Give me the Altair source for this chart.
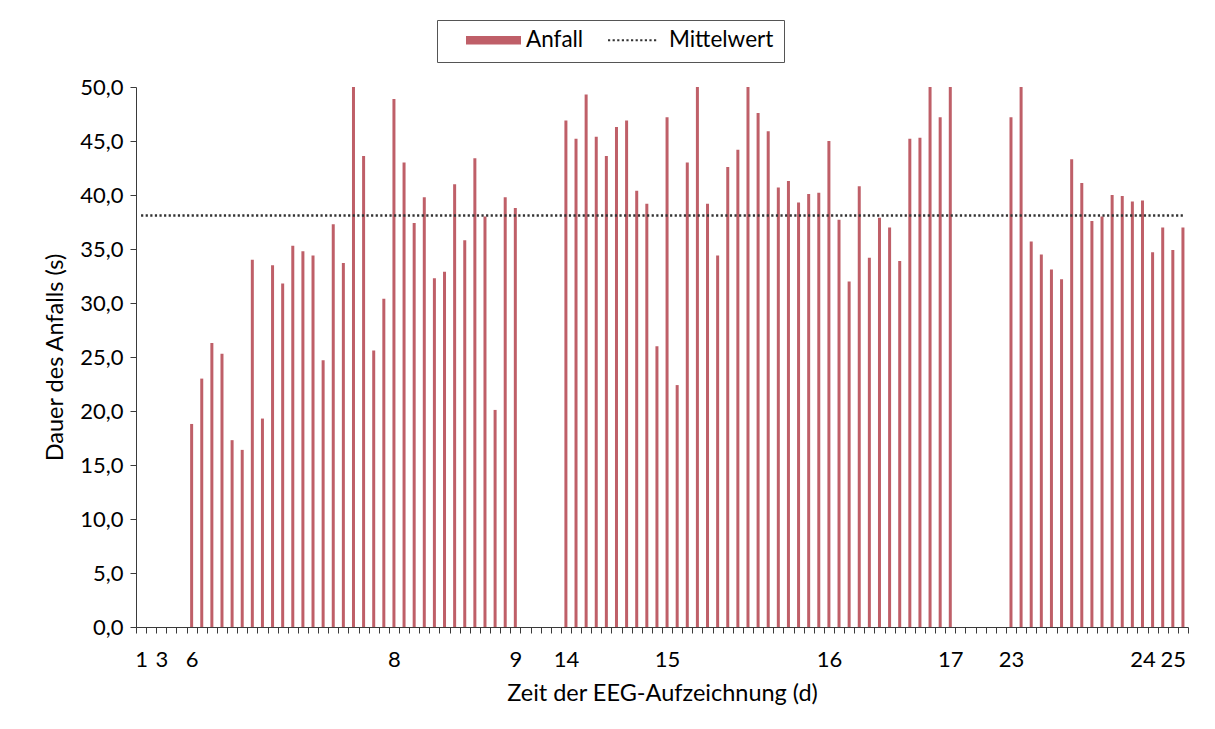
import altair as alt
import pandas as pd

# ---- data ----
# Dauer des Anfalls (s) for each category slot 1..104 (None = no seizure in that slot)
dauer = [None, None, None, None, None,
         18.8, 23.0, 26.3, 25.3, 17.3, 16.4, 34.0, 19.3, 33.5, 31.8,
         35.3, 34.8, 34.4, 24.7, 37.3, 33.7, 50.0, 43.6, 25.6, 30.4,
         48.9, 43.0, 37.4, 39.8, 32.3, 32.9, 41.0, 35.8, 43.4, 38.0,
         20.1, 39.8, 38.8,
         None, None, None, None,
         46.9, 45.2, 49.3, 45.4, 43.6, 46.3, 46.9, 40.4, 39.2, 26.0,
         47.2, 22.4, 43.0, 50.0, 39.2, 34.4, 42.6, 44.2, 50.0, 47.6,
         45.9, 40.7, 41.3, 39.3, 40.1, 40.2, 45.0, 37.7, 32.0, 40.8,
         34.2, 37.9, 37.0, 33.9, 45.2, 45.3, 50.0, 47.2, 50.0,
         None, None, None, None, None,
         47.2, 50.0, 35.7, 34.5, 33.1, 32.2, 43.3, 41.1, 37.6, 38.0,
         40.0, 39.9, 39.4, 39.5, 34.7, 37.0, 34.9, 37.0]
mittelwert = 38.1

# day labels shown on the category axis (slot -> label)
label_slots = [1, 3, 6, 26, 38, 43, 53, 69, 81, 87, 100, 103]
label_days = ["1", "3", "6", "8", "9", "14", "15", "16", "17", "23", "24", "25"]

y_ticks = [0, 5, 10, 15, 20, 25, 30, 35, 40, 45, 50]
serien = ["Anfall", "Mittelwert"]

# ---- styles ----
FONT = "Lato"
BAR = "#BF5F68"
LINE = "#333333"
AX = "#3a3a3a"

slots = list(range(1, len(dauer) + 1))
bars_df = pd.DataFrame({"slot": slots, "dauer": dauer}).dropna()
mean_df = pd.DataFrame({"slot": slots, "mittel": [mittelwert] * len(slots)})
leg_df = pd.DataFrame({"serie": serien, "slot": [slots[0]] * 2, "wert": [0, 0]})

# legend symbol paths (units of half the symbol size, size=55px -> 27.5px per unit)
U = 27.5
def rect(x0, x1, y0, y1):
    return f"M{x0/U:.4f},{y0/U:.4f}L{x1/U:.4f},{y0/U:.4f}L{x1/U:.4f},{y1/U:.4f}L{x0/U:.4f},{y1/U:.4f}Z"

swatch_path = rect(-8.5, 46.5, -4.2, 4.2)
dots_path = "".join(rect(-9.5 + k * 4.6, -9.5 + k * 4.6 + 2.2, -1.1, 1.1) for k in range(11))

lab_expr = ""
for s, d in zip(label_slots, label_days):
    lab_expr += f"datum.value == {s} ? '{d}' : "
lab_expr += "''"

xscale = alt.Scale(domain=slots, paddingInner=0, paddingOuter=0)
yscale = alt.Scale(domain=[0, 50], nice=False)

x_axis = alt.Axis(
    title="Zeit der EEG-Aufzeichnung (d)", tickBand="extent", labelExpr=lab_expr,
    labelAngle=0, labelOverlap=False, tickSize=6, labelPadding=16,
    labelFontSize=22, titleFontSize=23.5, titleFontWeight="normal",
    titleY=66, titleBaseline="middle", domainColor=AX, tickColor=AX,
    labelColor="#000", titleColor="#000", grid=False,
)
y_axis = alt.Axis(
    title="Dauer des Anfalls (s)", values=y_ticks,
    labelExpr="replace(format(datum.value, '.1f'), '.', ',')",
    tickSize=6, labelPadding=7, labelFontSize=22, titleFontSize=23.5,
    titleFontWeight="normal", titleX=-81, titleY=270, titleAngle=270,
    titleAlign="center", titleBaseline="middle",
    domainColor=AX, tickColor=AX, labelColor="#000", titleColor="#000", grid=False,
)

leg = alt.Legend(
    title=None, orient="none", legendX=301, legendY=-67, direction="horizontal",
    strokeColor="#555", fillColor="white", padding=10, symbolSize=3025,
    clipHeight=20, labelFontSize=22.5, labelFont=FONT, labelColor="#000",
    labelOffset=24, columnPadding=6, symbolOpacity=1, symbolStrokeWidth=0,
)

bars = alt.Chart(bars_df).mark_bar(size=3, color=BAR).encode(
    x=alt.X("slot:O", scale=xscale, axis=x_axis),
    y=alt.Y("dauer:Q", scale=yscale, axis=y_axis),
)

mean_line = alt.Chart(mean_df).mark_line(
    color=LINE, strokeDash=[2.2, 2.4], strokeWidth=2.3
).encode(
    x=alt.X("slot:O", scale=xscale, axis=x_axis),
    y=alt.Y("mittel:Q", scale=yscale, axis=y_axis),
)

legend_layer = alt.Chart(leg_df).mark_point(filled=True, opacity=0, size=3025).encode(
    x=alt.X("slot:O", scale=xscale, axis=x_axis),
    y=alt.Y("wert:Q", scale=yscale, axis=y_axis),
    color=alt.Color("serie:N", scale=alt.Scale(domain=serien, range=[BAR, LINE]), legend=leg),
    shape=alt.Shape("serie:N", scale=alt.Scale(domain=serien, range=[swatch_path, dots_path]), legend=leg),
)

chart = alt.layer(bars, mean_line, legend_layer).properties(
    width=1052, height=540,
    padding={"left": 128, "top": 79, "right": 19, "bottom": 94},
    autosize=alt.AutoSizeParams(type="none"),
).configure_view(stroke=None).configure_axis(
    labelFont=FONT, titleFont=FONT
).configure_legend(labelFont=FONT)

chart.save("out.html", embed_options={"renderer": "svg", "actions": False})
